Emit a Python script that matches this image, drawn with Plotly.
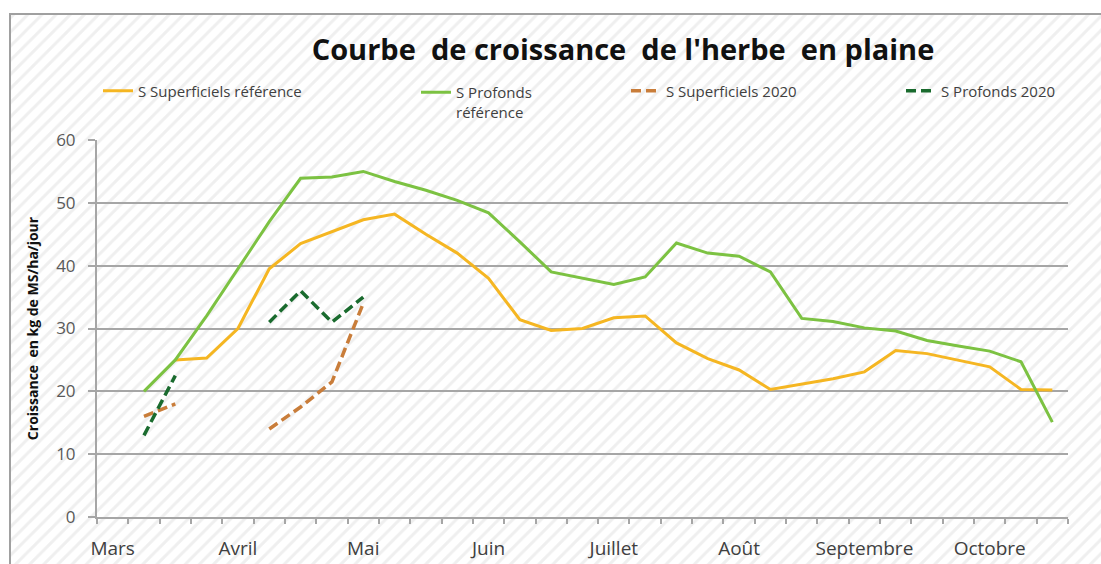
import plotly.graph_objects as go

# ---------------- data ----------------
months = ["Mars", "Avril", "Mai", "Juin", "Juillet", "Août", "Septembre", "Octobre"]
month_positions = [0, 4, 8, 12, 16, 20, 24, 28]
n_weeks = 31

sup_ref = [None, None, 25, 25.3, 30, 39.5, 43.5, 45.4, 47.3, 48.2, 45, 42, 38, 31.4, 29.7, 30,
           31.7, 32, 27.7, 25.2, 23.4, 20.3, 21.1, 22, 23.1, 26.5, 26, 25, 23.9, 20.3, 20.2]
prof_ref = [None, 20, 25, 32, 39.5, 47, 53.9, 54.1, 55, 53.4, 52, 50.4, 48.4, 43.8, 39, 38,
            37, 38.2, 43.6, 42, 41.5, 39, 31.6, 31.1, 30.1, 29.6, 28.1, 27.2, 26.4, 24.7, 15.1]
sup_2020 = [None, 16, 18, None, None, 14, 17.5, 21.5, 34] + [None] * 22
prof_2020 = [None, 13, 22.5, None, None, 31, 36, 31, 35] + [None] * 22

names = ["S Superficiels référence", "S Profonds<br>référence", "S Superficiels 2020", "S Profonds 2020"]
colors = ["#F5B622", "#7CC242", "#C97D3A", "#1A6B2E"]

weeks = list(range(n_weeks))

W, H = 1101, 564
GRAY = "#A6A6A6"

fig = go.Figure()

# hatched background (decorative) on a full-page helper subplot
bx0, by1 = 10 / W, 1 - 14 / H
fig.add_trace(go.Scatter(
    x=[bx0, 1, 1, bx0, bx0], y=[0, 0, by1, by1, 0], mode="lines", fill="toself",
    line=dict(width=0), fillcolor="white",
    fillpattern=dict(shape="/", fgcolor="#E0E0E0", bgcolor="white", size=10, solidity=0.3),
    xaxis="x", yaxis="y", showlegend=False, hoverinfo="skip"))

series = [sup_ref, prof_ref, sup_2020, prof_2020]
dashes = ["solid", "solid", "10px,5px", "10px,5px"]
widths = [3, 3, 3.5, 3.5]
legends = ["legend", "legend2", "legend3", "legend4"]
for vals, nm, col, d, w, lg in zip(series, names, colors, dashes, widths, legends):
    fig.add_trace(go.Scatter(
        x=weeks, y=vals, mode="lines", name=nm,
        line=dict(color=col, width=w, dash=d),
        xaxis="x2", yaxis="y2", legend=lg, hoverinfo="skip"))

leg_common = dict(bgcolor="rgba(0,0,0,0)", font=dict(family="Open Sans", size=15, color="#404040"),
                  orientation="h", xanchor="left")
ly = 1 - 91 / H

fig.update_layout(
    width=W, height=H,
    margin=dict(l=0, r=0, t=0, b=0),
    paper_bgcolor="white", plot_bgcolor="rgba(0,0,0,0)",
    title=dict(text="Courbe  de croissance  de l'herbe  en plaine", x=623 / W, xanchor="center",
               y=1 - 50 / H, yanchor="middle",
               font=dict(family="Open Sans", size=29, color="#111111", weight="bold")),
    xaxis=dict(domain=[0, 1], range=[0, 1], visible=False, fixedrange=True),
    yaxis=dict(domain=[0, 1], range=[0, 1], visible=False, fixedrange=True),
    xaxis2=dict(domain=[97 / W, 1068 / W], range=[-0.5, n_weeks - 0.5], anchor="y2",
                tickmode="array", tickvals=month_positions, ticktext=months, ticks="",
                showline=True, linecolor=GRAY, linewidth=2, showgrid=False, zeroline=False,
                tickfont=dict(family="Open Sans", size=19, color="#404040"),
                ticklabelstandoff=13, automargin=False,
                minor=dict(tickmode="linear", tick0=-0.5, dtick=1, ticks="outside", ticklen=5,
                           tickcolor=GRAY, tickwidth=1.5, showgrid=False)),
    yaxis2=dict(domain=[1 - 517 / H, 1 - 140 / H], range=[0, 60], dtick=10, anchor="x2",
                showline=True, linecolor=GRAY, linewidth=2, showgrid=True, gridcolor=GRAY,
                gridwidth=2, zeroline=False, ticks="outside", ticklen=7, tickcolor=GRAY,
                tickwidth=2, tickfont=dict(family="Open Sans", size=17, color="#595959"),
                ticklabelstandoff=9, automargin=False,
                title=dict(text="Croissance  en kg de MS/ha/jour", standoff=14,
                           font=dict(family="Open Sans", size=14, color="#111111", weight="bold"))),
    legend=dict(x=98 / W, y=ly, yanchor="middle", **leg_common),
    legend2=dict(x=416 / W, y=ly + 15 / H, yanchor="top", valign="top", **leg_common),
    legend3=dict(x=626 / W, y=ly, yanchor="middle", **leg_common),
    legend4=dict(x=901 / W, y=ly, yanchor="middle", **leg_common),
    shapes=[dict(type="rect", xref="paper", yref="paper", x0=bx0, x1=1.02, y0=-0.02, y1=by1,
                 line=dict(color="#A0A0A0", width=2), fillcolor="rgba(0,0,0,0)", layer="above")],
)

fig.write_html("out.html", config={"displayModeBar": False},
               post_script="document.body.style.margin='0';document.body.style.overflow='hidden';")
